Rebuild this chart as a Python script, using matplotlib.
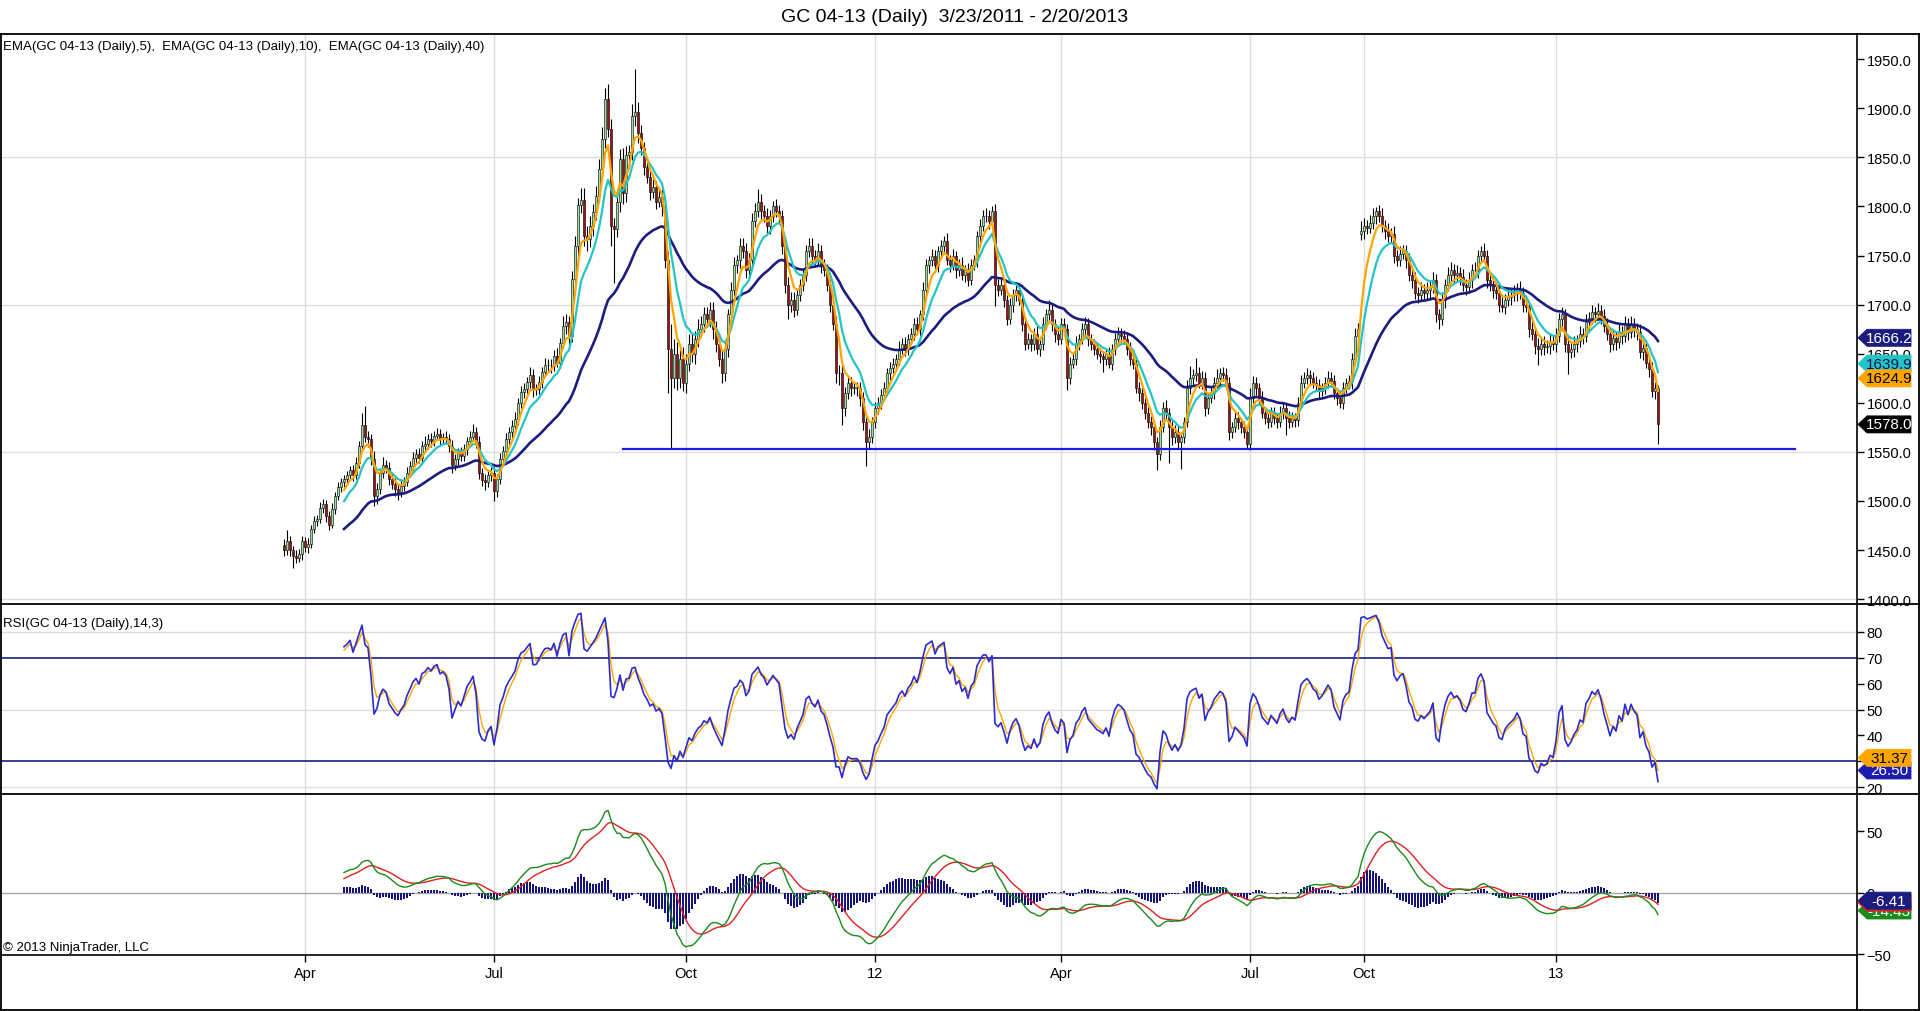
import numpy as np
import matplotlib
matplotlib.use("Agg")
import matplotlib.pyplot as plt
from matplotlib import font_manager
from matplotlib.lines import Line2D
from matplotlib.patches import Polygon
from matplotlib.transforms import blended_transform_factory

names = {f.name for f in font_manager.fontManager.ttflist}
base_font = "Liberation Sans Narrow" if "Liberation Sans Narrow" in names else "Liberation Sans"
plt.rcParams["font.family"] = [base_font, "DejaVu Sans"]

# GC 04-13 daily closes, 3/23/2011 .. 2/20/2013 (one bar per trading day)
closes = [
    1450, 1459, 1450, 1444, 1442, 1446, 1459, 1453, 1456, 1471,
    1480, 1482, 1493, 1497, 1485, 1476, 1492, 1505, 1514, 1519,
    1522, 1526, 1532, 1526, 1539, 1556, 1577, 1565, 1563, 1543,
    1505, 1512, 1529, 1537, 1534, 1522, 1517, 1512, 1509, 1515,
    1519, 1529, 1536, 1544, 1548, 1544, 1556, 1558, 1563, 1561,
    1566, 1568, 1563, 1565, 1563, 1556, 1537, 1543, 1549, 1546,
    1553, 1561, 1565, 1570, 1560, 1529, 1521, 1519, 1526, 1529,
    1510, 1522, 1543, 1551, 1563, 1570, 1576, 1583, 1600, 1611,
    1614, 1621, 1628, 1614, 1614, 1621, 1631, 1638, 1639, 1638,
    1648, 1641, 1661, 1678, 1682, 1668, 1726, 1760, 1801, 1807,
    1770, 1767, 1780, 1794, 1811, 1838, 1869, 1909, 1879, 1780,
    1777, 1804, 1848, 1814, 1852, 1855, 1892, 1896, 1875, 1860,
    1840, 1830, 1815, 1820, 1805, 1810, 1800, 1745, 1655, 1625,
    1650, 1625, 1645, 1620, 1640, 1660, 1650, 1665, 1675, 1680,
    1690, 1685, 1695, 1675, 1660, 1645, 1630, 1655, 1690, 1715,
    1740, 1745, 1760, 1755, 1735, 1745, 1785, 1795, 1805, 1795,
    1790, 1780, 1790, 1800, 1795, 1790, 1760, 1720, 1700, 1705,
    1695, 1710, 1720, 1730, 1755, 1760, 1750, 1745, 1755, 1740,
    1735, 1720, 1700, 1680, 1630, 1630, 1595, 1610, 1620, 1615,
    1615, 1615, 1605, 1580, 1560, 1565, 1580, 1595, 1600, 1608,
    1615, 1630, 1635, 1640, 1645, 1655, 1660, 1655, 1665, 1670,
    1680, 1675, 1690, 1715, 1740, 1745, 1750, 1740, 1755, 1760,
    1765, 1745, 1740, 1750, 1735, 1740, 1730, 1735, 1725, 1740,
    1745, 1770, 1780, 1790, 1790, 1785, 1795, 1720, 1715, 1720,
    1705, 1685, 1700, 1710, 1715, 1705, 1680, 1660, 1665, 1660,
    1670, 1655, 1660, 1680, 1690, 1695, 1680, 1670, 1665, 1680,
    1675, 1625, 1640, 1645, 1660, 1665, 1675, 1680, 1665, 1660,
    1655, 1650, 1648, 1645, 1650, 1640, 1655, 1665, 1670, 1668,
    1665, 1655, 1645, 1640, 1615, 1610, 1600, 1590, 1580, 1575,
    1560, 1548, 1575, 1595, 1590, 1575, 1565, 1570, 1560, 1565,
    1580, 1615, 1625, 1628, 1630, 1620, 1625, 1595, 1605, 1610,
    1620, 1625, 1630, 1628, 1620, 1570, 1575, 1585, 1580, 1575,
    1570, 1558, 1605, 1620, 1615, 1605, 1590, 1585, 1580, 1590,
    1585, 1580, 1590, 1595, 1585, 1580, 1585, 1582, 1600, 1620,
    1625, 1628, 1625, 1620, 1618, 1612, 1615, 1620, 1625, 1622,
    1610, 1605, 1600, 1615, 1620, 1622, 1645, 1668, 1675,
    1775, 1780, 1778, 1783, 1790, 1795, 1790, 1780, 1775, 1770,
    1772, 1750, 1745, 1752, 1755, 1745, 1730, 1725, 1712, 1710,
    1715, 1712, 1715, 1718, 1725, 1690, 1685, 1705, 1720, 1730,
    1735, 1730, 1732, 1728, 1720, 1718, 1725, 1735, 1735, 1750,
    1755, 1750, 1725, 1720, 1715, 1712, 1700, 1698, 1705, 1708,
    1710, 1712, 1716, 1712, 1700, 1698, 1675, 1670, 1658, 1655, 1660, 1657,
    1658, 1662, 1660, 1668, 1685, 1690, 1660, 1652, 1655, 1660,
    1663, 1670, 1668, 1682, 1686, 1692, 1690, 1694, 1688, 1678,
    1670, 1660, 1666, 1662, 1672, 1668, 1680, 1672, 1680, 1675,
    1672, 1652, 1656, 1641, 1634, 1612, 1615, 1578,
]

# upper / lower shadow lengths beyond the candle body
wick_up = [
    6, 11, 5, 4, 6, 5, 5, 4, 6, 5,
    5, 4, 6, 5, 4, 5, 6, 4, 5, 4,
    4, 5, 4, 5, 6, 5, 13, 20, 6, 5,
    8, 6, 5, 8, 5, 6, 5, 6, 5, 6,
    5, 6, 5, 6, 5, 6, 5, 8, 5, 6,
    5, 6, 5, 4, 6, 5, 6, 5, 5, 6,
    5, 4, 6, 8, 5, 6, 5, 6, 5, 6,
    6, 5, 6, 5, 6, 5, 6, 8, 5, 6,
    6, 5, 8, 6, 5, 6, 5, 8, 6, 6,
    6, 8, 5, 10, 8, 6, 8, 10, 8, 12,
    12, 10, 10, 8, 10, 10, 12, 12, 16, 10,
    8, 10, 10, 12, 10, 8, 12, 44, 10, 8,
    6, 8, 6, 8, 6, 8, 8, 6, 10, 25,
    15, 12, 10, 12, 10, 10, 10, 8, 10, 8,
    8, 8, 8, 8, 8, 6, 8, 8, 6, 8,
    8, 6, 8, 8, 8, 8, 8, 8, 13, 8,
    6, 8, 6, 6, 8, 6, 6, 6, 8, 8,
    8, 6, 6, 6, 6, 8, 8, 6, 8, 6,
    6, 6, 6, 6, 8, 8, 8, 6, 6, 6,
    6, 6, 6, 6, 6, 8, 6, 6, 6, 6,
    6, 5, 7, 6, 5, 8, 6, 7, 5, 6,
    6, 7, 5, 8, 6, 5, 7, 6, 5, 6,
    5, 8, 6, 7, 5, 6, 8, 5, 7, 6,
    6, 5, 7, 6, 8, 6, 5, 7, 6, 8,
    6, 5, 7, 6, 8, 5, 6, 7, 6, 5,
    6, 8, 5, 7, 6, 10, 6, 5, 7, 6,
    6, 5, 7, 6, 8, 5, 6, 7, 6, 5,
    5, 7, 6, 5, 6, 7, 5, 6, 7, 6,
    6, 5, 7, 6, 5, 6, 7, 5, 6, 7,
    6, 5, 7, 6, 8, 5, 6, 7, 6, 5,
    6, 8, 12, 6, 16, 6, 7, 6, 5, 6,
    6, 9, 5, 6, 7, 6, 5, 7, 6, 5,
    6, 5, 10, 7, 6, 5, 7, 6, 5, 6,
    6, 5, 7, 6, 5, 7, 6, 5, 6, 8,
    6, 7, 5, 6, 7, 6, 5, 6, 7, 6,
    6, 5, 7, 6, 5, 6, 6, 8, 6,
    10, 8, 6, 8, 8, 4, 6, 8, 6, 8,
    6, 8, 6, 8, 6, 6, 8, 6, 8, 6,
    8, 6, 8, 6, 8, 6, 6, 8, 6, 8,
    8, 6, 8, 6, 8, 6, 8, 6, 8, 6,
    5, 8, 6, 8, 6, 8, 6, 8, 6, 8,
    6, 8, 6, 8, 6, 8, 6, 8, 6, 8, 6, 8,
    6, 8, 6, 8, 6, 8, 6, 8, 6, 8,
    6, 8, 6, 8, 6, 8, 6, 8, 6, 8,
    8, 6, 8, 6, 8, 6, 8, 6, 8, 6,
    6, 8, 6, 8, 6, 8, 6, 3,
]
wick_dn = [
    6, 5, 6, 12, 5, 4, 6, 5, 6, 4,
    4, 5, 4, 5, 6, 6, 4, 5, 4, 5,
    5, 4, 5, 6, 4, 5, 4, 5, 8, 6,
    10, 8, 5, 6, 5, 6, 5, 7, 8, 5,
    5, 4, 5, 5, 6, 5, 6, 5, 5, 6,
    5, 4, 6, 5, 5, 6, 8, 5, 6, 5,
    5, 6, 5, 4, 6, 7, 6, 8, 5, 6,
    10, 6, 5, 6, 5, 5, 6, 5, 6, 5,
    6, 5, 6, 8, 6, 5, 6, 5, 6, 8,
    6, 5, 6, 5, 8, 10, 6, 8, 10, 8,
    10, 12, 8, 10, 8, 6, 8, 10, 8, 20,
    55, 8, 10, 12, 10, 12, 8, 10, 10, 8,
    8, 6, 8, 6, 8, 6, 10, 8, 45, 72,
    10, 12, 10, 8, 10, 8, 8, 10, 8, 8,
    8, 6, 8, 10, 8, 8, 10, 8, 8, 6,
    6, 8, 8, 8, 8, 6, 8, 6, 6, 8,
    6, 8, 8, 6, 6, 8, 8, 8, 15, 8,
    8, 6, 6, 6, 6, 6, 8, 6, 6, 8,
    6, 6, 8, 6, 10, 12, 18, 8, 6, 8,
    6, 8, 8, 8, 24, 6, 6, 6, 6, 6,
    5, 6, 7, 5, 8, 6, 5, 7, 6, 5,
    6, 5, 7, 6, 5, 8, 6, 5, 7, 6,
    6, 5, 7, 5, 8, 6, 5, 7, 6, 5,
    5, 7, 6, 5, 6, 8, 5, 21, 6, 5,
    7, 6, 5, 8, 6, 5, 7, 6, 5, 7,
    6, 5, 7, 6, 5, 6, 7, 8, 6, 5,
    6, 12, 6, 5, 7, 6, 5, 6, 7, 6,
    6, 5, 7, 14, 6, 5, 7, 6, 5, 6,
    5, 6, 7, 6, 5, 8, 6, 7, 6, 8,
    8, 16, 6, 5, 7, 36, 8, 6, 6, 27,
    6, 5, 6, 7, 6, 5, 6, 8, 6, 5,
    6, 5, 7, 6, 5, 8, 6, 5, 7, 6,
    6, 5, 6, 5, 7, 6, 5, 7, 6, 5,
    7, 6, 5, 7, 18, 6, 5, 7, 6, 5,
    5, 6, 7, 5, 6, 7, 5, 6, 5, 6,
    6, 7, 5, 6, 5, 6, 8, 6, 8,
    6, 8, 6, 5, 6, 8, 6, 6, 8, 6,
    6, 8, 6, 6, 6, 8, 6, 8, 6, 8,
    6, 8, 6, 8, 6, 8, 10, 6, 8, 6,
    6, 8, 6, 8, 6, 8, 6, 8, 6, 8,
    8, 6, 8, 6, 8, 6, 8, 6, 8, 6,
    8, 6, 8, 6, 8, 6, 8, 6, 8, 17, 6, 8,
    6, 8, 6, 8, 6, 8, 8, 23, 6, 8,
    8, 6, 8, 6, 8, 6, 8, 6, 8, 6,
    6, 8, 6, 8, 6, 8, 6, 8, 6, 8,
    8, 6, 8, 6, 8, 6, 8, 20,
]
open_override = {0: 1455, 359: 1772}   # first bar and the bar after the data gap

month_bars = [7, 70, 134, 197, 259, 322, 360, 424]
month_labels = ["Apr", "Jul", "Oct", "12", "Apr", "Jul", "Oct", "13"]

support_level = 1553
support_from, support_to = 113, 503.7

# last-value markers on the right axis (value, fill, text colour, label shown?)
price_tags = [(1666.2, "#1c1c80", "white", True), (1639.9, "#22c4c4", "#10105a", True),
              (1624.9, "#ffa500", "black", True), (1578.0, "black", "white", True)]
rsi_tags = [(26.50, "#1c1cb0", "white", True), (31.37, "#ffa500", "black", True)]
macd_tags = [(-14.43, "#1a8a1a", "white", True), (-8.02, "#e02020", "white", False),
             (-6.41, "#1c1c80", "white", True)]

n = min(len(closes), len(wick_up), len(wick_dn))
close = np.array(closes[:n], float)
opn = np.r_[close[0], close[:-1]]
for k, v in open_override.items():
    if k < n:
        opn[k] = v
high = np.maximum(opn, close) + np.array(wick_up[:n])
low = np.minimum(opn, close) - np.array(wick_dn[:n])
x = np.arange(n)


def ema(vals, period):
    out = np.empty(len(vals))
    out[0] = vals[0]
    k = 2.0 / (period + 1)
    for i in range(1, len(vals)):
        out[i] = out[i - 1] + k * (vals[i] - out[i - 1])
    return out


def rsi(vals, period=14, smooth=3):
    r = np.full(len(vals), np.nan)
    avg = np.full(len(vals), np.nan)
    up = np.r_[0, np.maximum(np.diff(vals), 0)]
    dn = np.r_[0, np.maximum(-np.diff(vals), 0)]
    au = ad = None
    k = 2.0 / (1 + smooth)
    for i in range(len(vals)):
        if i + 1 < period:
            if i + 1 == period - 1:
                avg[i] = 50
            continue
        if i + 1 == period:
            au, ad = up[i - period + 1:i + 1].mean(), dn[i - period + 1:i + 1].mean()
        else:
            au = (au * (period - 1) + up[i]) / period
            ad = (ad * (period - 1) + dn[i]) / period
        r[i] = 100.0 if ad == 0 else 100 - 100 / (1 + au / ad)
        prev = avg[i - 1] if not np.isnan(avg[i - 1]) else r[i]
        avg[i] = k * r[i] + (1 - k) * prev
    return r, avg


ema5, ema10, ema40 = ema(close, 5), ema(close, 10), ema(close, 40)
rsi_line, rsi_avg = rsi(close)
macd = ema(close, 12) - ema(close, 26)
macd_avg = ema(macd, 9)
macd_diff = macd - macd_avg
s = 20  # indicators are drawn from bar 20 on

W, H = 1920, 1012
fig = plt.figure(figsize=(W / 100, H / 100), dpi=100)


def rect(x0, y0, x1, y1):
    return [x0 / W, 1 - y1 / H, (x1 - x0) / W, (y1 - y0) / H]


ax_p = fig.add_axes(rect(0, 35, 1857, 605))
ax_r = fig.add_axes(rect(0, 605, 1857, 795), sharex=ax_p)
ax_m = fig.add_axes(rect(0, 795, 1857, 956), sharex=ax_p)

grid_c = "#dddddd"
for ax in (ax_p, ax_r, ax_m):
    ax.set_xlim(-94.67, 524.33)
    for sp in ("left", "top", "bottom"):
        ax.spines[sp].set_visible(False)
    ax.spines["right"].set_linewidth(1.2)
    ax.yaxis.tick_right()
    ax.tick_params(axis="y", direction="out", length=5, width=1, labelsize=10.5, pad=2)
    ax.tick_params(axis="x", bottom=False, labelbottom=False)
    for b in month_bars:
        ax.axvline(b, color=grid_c, lw=1, zorder=0)

# price panel
ax_p.set_ylim(1395.1, 1975.6)
ax_p.set_yticks(np.arange(1400, 1951, 50))
ax_p.set_yticklabels([f"{v:.1f}" for v in np.arange(1400, 1951, 50)])
for g in (1400, 1550, 1700, 1850):
    ax_p.axhline(g, color=grid_c, lw=1, zorder=0)
up_mask = close >= opn
ax_p.vlines(x, low, high, color="black", lw=0.8, zorder=2)
body_h = np.maximum(np.abs(close - opn), 0.6)
ax_p.bar(x[up_mask], body_h[up_mask], bottom=np.minimum(opn, close)[up_mask], width=0.8,
         color="#9edc9e", edgecolor="black", linewidth=0.4, zorder=3)
ax_p.bar(x[~up_mask], body_h[~up_mask], bottom=np.minimum(opn, close)[~up_mask], width=0.8,
         color="#a01010", edgecolor="black", linewidth=0.4, zorder=3)
ax_p.plot(x[s:], ema40[s:], color="#1c1c80", lw=1.9, zorder=4)
ax_p.plot(x[s:], ema10[s:], color="#22c4c4", lw=1.6, zorder=5)
ax_p.plot(x[s:], ema5[s:], color="#ffa500", lw=1.6, zorder=6)
ax_p.plot([support_from, support_to], [support_level, support_level], color="#1a1ae6", lw=1.6, zorder=7)
ax_p.text(3 / 1857, 1 - 12 / 570,
          "EMA(GC 04-13 (Daily),5),  EMA(GC 04-13 (Daily),10),  EMA(GC 04-13 (Daily),40)",
          transform=ax_p.transAxes, ha="left", va="center", fontsize=9.5)

# RSI panel
ax_r.set_ylim(17.42, 90.68)
rsi_ticks = np.arange(20, 81, 10)
ax_r.set_yticks(rsi_ticks)
ax_r.set_yticklabels(["" if v == 30 else str(v) for v in rsi_ticks])   # 30 sits under the tags
for g in (20, 50, 80):
    ax_r.axhline(g, color=grid_c, lw=1, zorder=0)
for g in (30, 70):
    ax_r.axhline(g, color="#1c1c80", lw=1.2, zorder=1)
ax_r.plot(x[s:], rsi_avg[s:], color="#ffa500", lw=1.0, zorder=3)
ax_r.plot(x[s:], rsi_line[s:], color="#2b2bd0", lw=1.2, zorder=4)
ax_r.text(3 / 1857, 1 - 19 / 190, "RSI(GC 04-13 (Daily),14,3)",
          transform=ax_r.transAxes, ha="left", va="center", fontsize=9.5)

# MACD panel
ax_m.set_ylim(-50.6, 80.3)
ax_m.set_yticks([-50, 0, 50])
ax_m.axhline(0, color="#a8a8a8", lw=1, zorder=1)
ax_m.bar(x[s:], macd_diff[s:], width=0.6, color="#14147a", zorder=2)
ax_m.plot(x[s:], macd_avg[s:], color="#e02020", lw=1.0, zorder=3)
ax_m.plot(x[s:], macd[s:], color="#1a8a1a", lw=1.0, zorder=4)
ax_m.spines["bottom"].set_visible(True)
ax_m.spines["bottom"].set_linewidth(1.2)
ax_m.set_xticks(month_bars)
ax_m.set_xticklabels(month_labels)
ax_m.tick_params(axis="x", bottom=True, labelbottom=True, direction="out", length=5,
                 width=1, labelsize=10.5, pad=3)
ax_m.text(3 / 1857, 8 / 161, "\u00a9 2013 NinjaTrader, LLC",
          transform=ax_m.transAxes, ha="left", va="center", fontsize=9.5)


def tag(ax, y, text, fc, tc, z, show_text):
    pos = ax.get_position()
    wpx, hpx = pos.width * W, pos.height * H
    y0, y1 = ax.get_ylim()
    half = 8.5 * (y1 - y0) / hpx
    tr = blended_transform_factory(ax.transAxes, ax.transData)
    fx = lambda px: 1 + px / wpx
    pts = [(fx(1), y), (fx(10), y + half), (fx(54), y + half), (fx(54), y - half), (fx(10), y - half)]
    ax.add_patch(Polygon(pts, closed=True, transform=tr, facecolor=fc, edgecolor=fc,
                         lw=0.6, clip_on=False, zorder=z))
    if show_text:
        ax.text(fx(32), y, text, transform=tr, ha="center", va="center", color=tc,
                fontsize=11, clip_on=False, zorder=z + 0.5)


for i, (v, fc, tc, show) in enumerate(price_tags):
    tag(ax_p, v, f"{v:.1f}", fc, tc, 10 + i, show)
for i, (v, fc, tc, show) in enumerate(rsi_tags):
    tag(ax_r, v, f"{v:.2f}", fc, tc, 10 + i, show)
for i, (v, fc, tc, show) in enumerate(macd_tags):
    tag(ax_m, v, f"{v:.2f}", fc, tc, 10 + i, show)

# outer frame and panel separators
def hline(y, x0=0, x1=W - 1):
    fig.add_artist(Line2D([x0 / W, x1 / W], [1 - y / H, 1 - y / H], color="black", lw=1.3))


def vline(xp, y0, y1):
    fig.add_artist(Line2D([xp / W, xp / W], [1 - y0 / H, 1 - y1 / H], color="black", lw=1.3))


hline(35)
hline(605)
hline(795)
hline(1011)
vline(0.7, 35, 1011)
vline(W - 1, 35, 1011)
vline(1857, 956, 1011)

fig.text(0.497, 1 - 17 / H, "GC 04-13 (Daily)  3/23/2011 - 2/20/2013",
         ha="center", va="center", fontsize=14)

fig.savefig("out.png", dpi=100)
